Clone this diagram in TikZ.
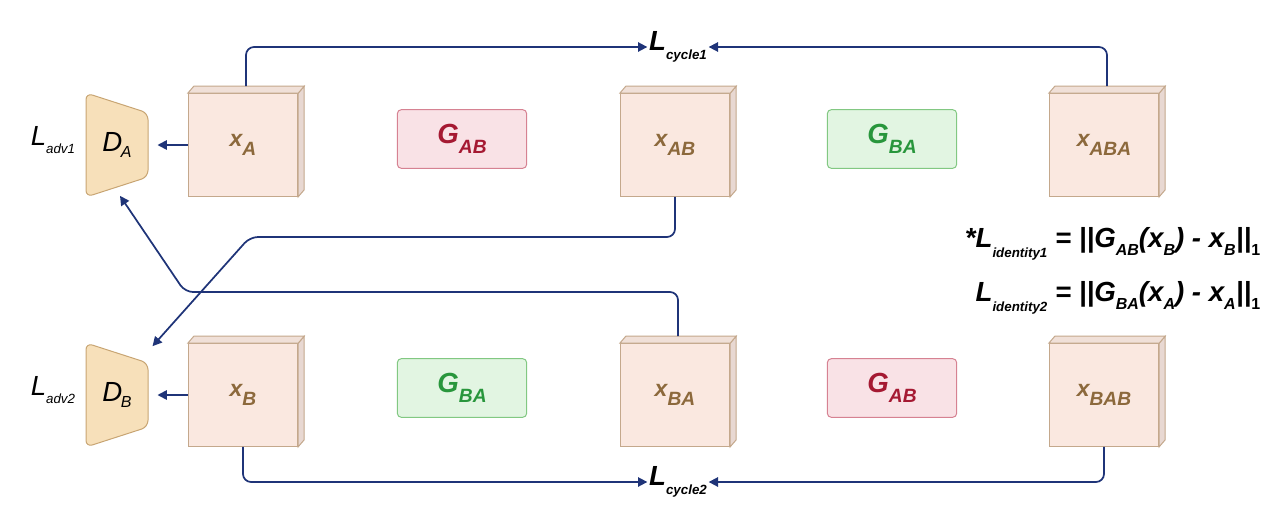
\documentclass[tikz,border=0pt]{standalone}
\usepackage{fontspec}
\setmainfont{Liberation Sans}
\usetikzlibrary{arrows.meta,positioning,calc}

\definecolor{navy}{RGB}{31,52,120}
\definecolor{cubefill}{RGB}{250,232,224}
\definecolor{cubeline}{RGB}{196,168,140}
\definecolor{cubetext}{RGB}{140,105,60}
\definecolor{discfill}{RGB}{247,224,186}
\definecolor{discline}{RGB}{200,165,115}
\definecolor{redfill}{RGB}{249,226,230}
\definecolor{redline}{RGB}{214,130,146}
\definecolor{redtext}{RGB}{165,25,50}
\definecolor{greenfill}{RGB}{226,245,226}
\definecolor{greenline}{RGB}{130,200,130}
\definecolor{greentext}{RGB}{40,150,60}

\tikzset{every picture/.style={line width=0.75pt}}
\tikzset{
  cube/.style={draw=cubeline,fill=cubefill,minimum width=82pt,minimum height=77pt,inner sep=0pt,
    font=\LARGE\bfseries\itshape,text=cubetext},
  gen/.style={rounded corners=3pt,minimum width=97pt,minimum height=44pt,inner sep=0pt,font=\huge\bfseries\itshape},
  genab/.style={gen,draw=redline,fill=redfill,text=redtext},
  genba/.style={gen,draw=greenline,fill=greenfill,text=greentext},
  flow/.style={draw=navy,line width=1.3pt,-{Triangle[length=7pt,width=7pt]}},
  loss/.style={font=\Large\bfseries\itshape,inner sep=1pt}
}
\newcommand{\cubedepth}[1]{%
  \draw[cubeline,fill=cubefill!85!gray] (#1.north east) -- ++(6,-7) -- ($(#1.south east)+(6,-7)$) -- (#1.south east) -- cycle;
  \draw[cubeline,fill=cubefill!92!gray] (#1.north west) -- ++(6,-7) -- ($(#1.north east)+(6,-7)$) -- (#1.north east) -- cycle;}
\newcommand{\disc}[3]{%
  \draw[discline,fill=discfill,rounded corners=5pt] (#1-31,#2-52) -- (#1+31,#2-32) -- (#1+31,#2+32) -- (#1-31,#2+52) -- cycle;
  \node[inner sep=0pt,minimum width=60pt,minimum height=80pt] (#3) at (#1,#2) {};}

\begin{document}
\begin{tikzpicture}[x=0.75pt,y=0.75pt,yscale=-1,xscale=1]
\useasboundingbox (0,0) rectangle (1286,532);

% discriminators
\disc{117}{145}{DA}
\disc{117}{395}{DB}
\node[font=\huge\itshape] at (117,145) {D\kern-1pt\raisebox{-5pt}{\large A}};
\node[font=\huge\itshape] at (117,395) {D\kern-1pt\raisebox{-5pt}{\large B}};
\node[font=\huge\itshape,anchor=east] (Ladv1) at (80,140) {L\raisebox{-6pt}{\normalsize adv1}};
\node[font=\huge\itshape,anchor=east] (Ladv2) at (80,390) {L\raisebox{-6pt}{\normalsize adv2}};

% images
\node[cube] (xA)   at (243,145)  {x\raisebox{-7pt}{\Large A}};
\node[cube] (xAB)  at (675,145)  {x\raisebox{-7pt}{\Large AB}};
\node[cube] (xABA) at (1104,145) {x\raisebox{-7pt}{\Large ABA}};
\node[cube] (xB)   at (243,395)  {x\raisebox{-7pt}{\Large B}};
\node[cube] (xBA)  at (675,395)  {x\raisebox{-7pt}{\Large BA}};
\node[cube] (xBAB) at (1104,395) {x\raisebox{-7pt}{\Large BAB}};
\foreach \n in {xA,xAB,xABA,xB,xBA,xBAB} {\cubedepth{\n}}

% generators
\node[genab] (GAB1) at (462,139) {G\raisebox{-7pt}{\Large AB}};
\node[genba] (GBA1) at (892,139) {G\raisebox{-7pt}{\Large BA}};
\node[genba] (GBA2) at (462,388) {G\raisebox{-7pt}{\Large BA}};
\node[genab] (GAB2) at (892,388) {G\raisebox{-7pt}{\Large AB}};

% cycle losses
\node[loss] (Lc1) at (678,47)  {\huge L\raisebox{-7pt}{\normalsize cycle1}};
\node[loss] (Lc2) at (678,482) {\huge L\raisebox{-7pt}{\normalsize cycle2}};

% identity losses
\node[loss,anchor=east] (Lid1) at (1262,244) {\huge *L\raisebox{-7pt}{\normalsize identity1} = ||G\raisebox{-6pt}{\large AB}(x\raisebox{-6pt}{\large B}) - x\raisebox{-6pt}{\large B}||\raisebox{-6pt}{\large\upshape 1}};
\node[loss,anchor=east] (Lid2) at (1262,298) {\huge L\raisebox{-7pt}{\normalsize identity2} = ||G\raisebox{-6pt}{\large BA}(x\raisebox{-6pt}{\large A}) - x\raisebox{-6pt}{\large A}||\raisebox{-6pt}{\large\upshape 1}};

% connectors
\draw[flow] (xA.west) -- (DA.east);
\draw[flow] (xB.west) -- (DB.east);
\draw[flow,rounded corners=6pt] ($(xA.north)+(3,-7)$) |- (Lc1.west);
\draw[flow,rounded corners=6pt] ($(xABA.north)+(3,-7)$) |- (Lc1.east);
\draw[flow,rounded corners=6pt] (xB.south) |- (Lc2.west);
\draw[flow,rounded corners=6pt] (xBAB.south) |- (Lc2.east);
\draw[flow,rounded corners=6pt] (xAB.south) |- (250,237) -- ($(DB.north east)+(-5,5)$);
\draw[flow,rounded corners=6pt] ($(xBA.north)+(3,-7)$) |- (185,292) -- ($(DA.south)+(3,-3)$);
\end{tikzpicture}
\end{document}
